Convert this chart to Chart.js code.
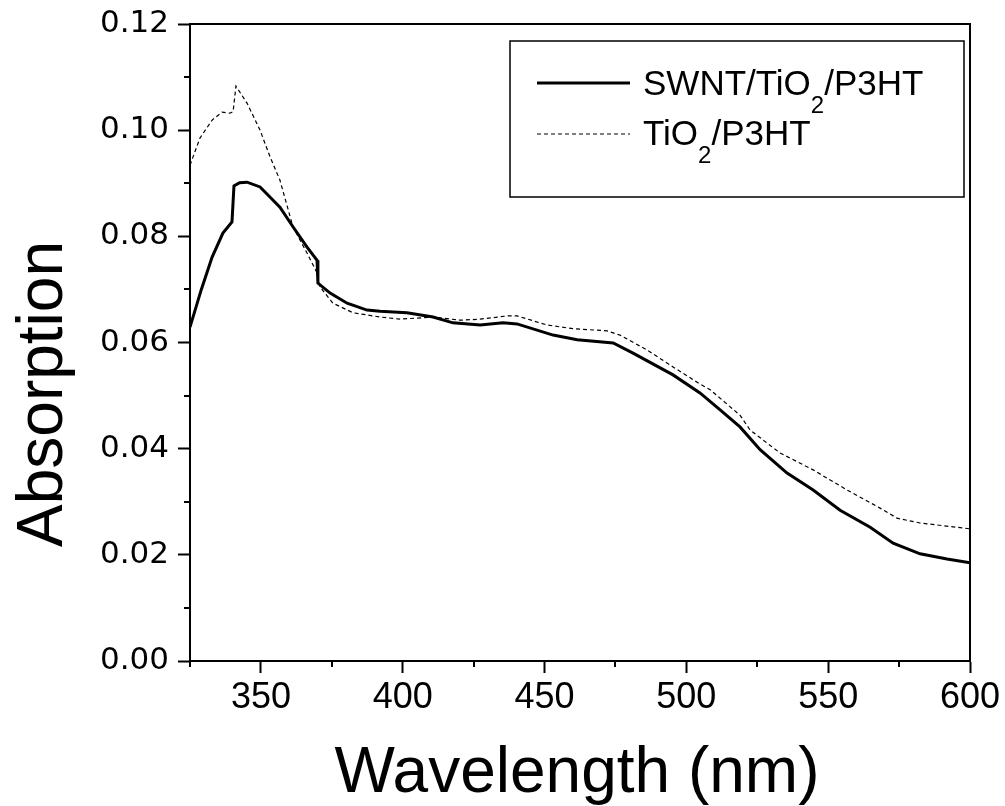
<!DOCTYPE html>
<html>
<head>
<meta charset="utf-8">
<script src="https://cdn.jsdelivr.net/npm/chart.js@4/dist/chart.umd.min.js"></script>
<style>
    body { margin: 0; background: #fff; }
    canvas { display: block; }
</style>
</head>
<body>
<canvas id="chart" width="1005" height="806"></canvas>
<script>
// SWNT/TiO2/P3HT (solid line)
var swnt_wavelength = [325, 329, 332.8, 336.6, 339.8, 340.5, 342.5, 345.1, 349.7, 353, 356.7, 361.3, 366.2, 369.8, 370.1,
    374.4, 380.4, 387.4, 392, 401.5, 410.7, 417.7, 427.3, 435.4, 440.3, 453, 461.5, 474.2, 481.2, 495.3,
    504.8, 511.9, 518.9, 526, 535.5, 544.7, 554.2, 564.8, 572.9, 582.4, 591.9, 600];
var swnt_absorption = [0.0629, 0.0700, 0.0761, 0.0806, 0.0827, 0.0895, 0.0901, 0.0902, 0.0893, 0.0875, 0.0855, 0.0818, 0.0780, 0.0755, 0.0712,
    0.0693, 0.0674, 0.0661, 0.0659, 0.0656, 0.0648, 0.0637, 0.0633, 0.0637, 0.0635, 0.0614, 0.0605, 0.0599, 0.0580, 0.0539,
    0.0505, 0.0473, 0.0441, 0.0398, 0.0354, 0.0322, 0.0284, 0.0252, 0.0222, 0.0202, 0.0192, 0.0185];

// TiO2/P3HT (dashed line)
var tio2_wavelength = [325, 328.5, 332.8, 336.3, 339.1, 340.2, 341.2, 345.1, 349.7, 353.2, 356.7, 361.3, 366.2, 369.8, 370.8,
    375.4, 382.5, 392, 399, 410.7, 420.2, 427.3, 436.8, 440.3, 450.9, 460, 472, 476.6, 486.1, 495.3,
    504.1, 508.4, 518.9, 522.5, 533, 544.7, 556.7, 568.3, 574.3, 582.4, 600];
var tio2_absorption = [0.0934, 0.0985, 0.1019, 0.1034, 0.1032, 0.1035, 0.1083, 0.1051, 0.1000, 0.0950, 0.0906, 0.0818, 0.0769, 0.0731, 0.0705,
    0.0674, 0.0656, 0.0648, 0.0644, 0.0648, 0.0642, 0.0644, 0.0650, 0.0650, 0.0633, 0.0626, 0.0622, 0.0614, 0.0586, 0.0554,
    0.0524, 0.0511, 0.0463, 0.0435, 0.0392, 0.0360, 0.0322, 0.0288, 0.0269, 0.0260, 0.0249];

var x_labels = [350, 400, 450, 500, 550, 600];
var y_labels = ["0.00", "0.02", "0.04", "0.06", "0.08", "0.10", "0.12"];

var legend_items = [
    { parts: [["SWNT/TiO", 0], ["2", 1], ["/P3HT", 0]], dash: [], width: 3 },
    { parts: [["TiO", 0], ["2", 1], ["/P3HT", 0]], dash: [4, 3], width: 1.2 }
];

function to_points(xs, ys) {
    var pts = [];
    for (var i = 0; i < xs.length; i++) {
        pts.push({ x: xs[i], y: ys[i] });
    }
    return pts;
}

var font_main = "'Liberation Sans', Arial, sans-serif";

// frame, minor ticks, axis titles and legend
var decorations = {
    id: 'decorations',
    afterDraw: function(chart) {
        var c = chart.ctx;
        var area = chart.chartArea;
        var xs = chart.scales.x, ys = chart.scales.y;
        c.save();
        c.strokeStyle = '#000';
        c.lineWidth = 2;
        c.beginPath();
        c.moveTo(area.left, area.top);
        c.lineTo(area.right, area.top);
        c.lineTo(area.right, area.bottom);
        c.stroke();

        // minor ticks
        c.beginPath();
        for (var v = 325; v <= 600; v += 50) {
            var px = Math.round(xs.getPixelForValue(v));
            c.moveTo(px, area.bottom);
            c.lineTo(px, area.bottom + 6);
        }
        for (var k = 1; k < 12; k += 2) {
            var py = Math.round(ys.getPixelForValue(k / 100));
            c.moveTo(area.left, py);
            c.lineTo(area.left - 6, py);
        }
        c.stroke();

        // axis titles
        c.fillStyle = '#000';
        c.font = "64px " + font_main;
        c.textAlign = 'center';
        c.textBaseline = 'alphabetic';
        c.fillText("Wavelength (nm)", (area.left + area.right) / 2 - 3, 792);
        c.save();
        c.translate(62, 394);
        c.rotate(-Math.PI / 2);
        c.fillText("Absorption", 0, 0);
        c.restore();

        // legend box
        c.lineWidth = 1.5;
        c.strokeRect(510, 41, 454, 156);
        var rows = [83, 134];
        var baselines = [95, 145];
        legend_items.forEach(function(item, i) {
            c.beginPath();
            c.setLineDash(item.dash);
            c.lineWidth = item.width;
            c.moveTo(537, rows[i]);
            c.lineTo(630, rows[i]);
            c.stroke();
            c.setLineDash([]);
            var tx = 643;
            c.textAlign = 'left';
            item.parts.forEach(function(p) {
                if (p[1]) {
                    c.font = "24px " + font_main;
                    c.fillText(p[0], tx, baselines[i] + 18);
                } else {
                    c.font = "35px " + font_main;
                    c.fillText(p[0], tx, baselines[i]);
                }
                tx += c.measureText(p[0]).width;
            });
        });
        c.restore();
    }
};

var ctx = document.getElementById("chart");

var line_chart = new Chart(ctx, {
    type: 'line',
    data: {
        datasets: [{
            label: "SWNT/TiO2/P3HT",
            data: to_points(swnt_wavelength, swnt_absorption),
            borderColor: '#000',
            borderWidth: 3,
            pointRadius: 0,
            tension: 0,
            fill: false
        }, {
            label: "TiO2/P3HT",
            data: to_points(tio2_wavelength, tio2_absorption),
            borderColor: '#000',
            borderWidth: 1.2,
            borderDash: [4, 3],
            pointRadius: 0,
            tension: 0,
            fill: false
        }]
    },
    options: {
        responsive: false,
        animation: false,
        layout: { padding: { top: 24, right: 35, left: 0, bottom: 0 } },
        plugins: {
            legend: { display: false },
            tooltip: { enabled: false }
        },
        scales: {
            x: {
                type: 'linear',
                min: 325,
                max: 600,
                afterFit: function(scale) {
                    scale.height = 145;
                    scale.paddingLeft = 0;
                    scale.paddingRight = 0;
                },
                border: { display: true, color: '#000', width: 2 },
                grid: {
                    drawOnChartArea: false,
                    tickLength: 12,
                    tickWidth: 2,
                    tickColor: function(c) {
                        return c.tick && x_labels.indexOf(c.tick.value) >= 0 ? '#000' : 'rgba(0,0,0,0)';
                    }
                },
                ticks: {
                    stepSize: 25,
                    autoSkip: false,
                    maxRotation: 0,
                    padding: 3,
                    color: '#000',
                    font: { family: "'Liberation Sans', Arial", size: 36 },
                    callback: function(value) {
                        return x_labels.indexOf(value) >= 0 ? String(value) : '';
                    }
                }
            },
            y: {
                min: 0,
                max: 0.12,
                afterFit: function(scale) {
                    scale.width = 190;
                    scale.paddingTop = 0;
                    scale.paddingBottom = 0;
                },
                border: { display: true, color: '#000', width: 2 },
                grid: {
                    drawOnChartArea: false,
                    tickLength: 12,
                    tickWidth: 2,
                    tickColor: function(c) {
                        return c.index % 2 === 0 ? '#000' : 'rgba(0,0,0,0)';
                    }
                },
                ticks: {
                    stepSize: 0.01,
                    autoSkip: false,
                    padding: 9,
                    color: '#000',
                    font: { family: "'DejaVu Sans', sans-serif", size: 31 },
                    callback: function(value, index) {
                        return index % 2 === 0 ? y_labels[index / 2] : '';
                    }
                }
            }
        }
    },
    plugins: [decorations]
});
</script>
</body>
</html>
